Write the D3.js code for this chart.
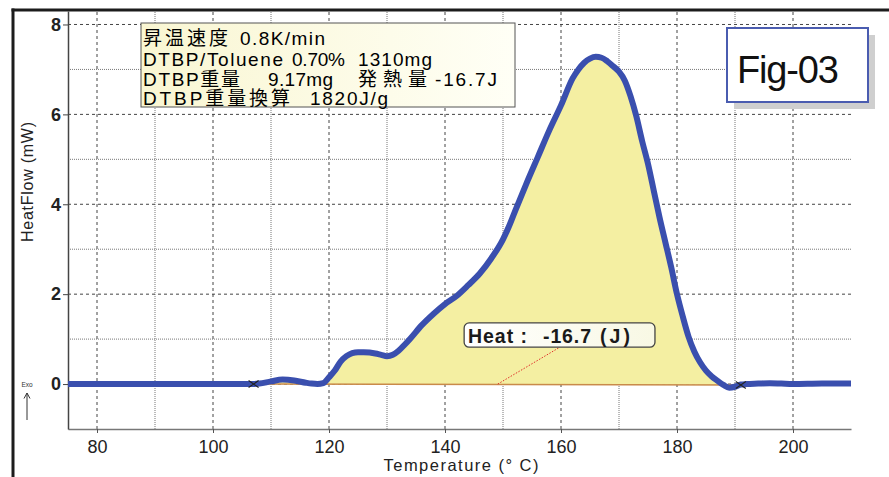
<!DOCTYPE html>
<html><head><meta charset="utf-8">
<script src="https://cdn.jsdelivr.net/npm/d3@7"></script>
<style>body{margin:0;background:#fff} svg{display:block}</style>
</head><body>
<svg id="c" width="889" height="477"></svg>
<script>
// ---- data ----
const temps = [75, 80, 90, 100, 105, 107, 108, 110, 112, 114, 116, 117, 118, 119, 120, 121, 122, 123, 124, 125, 126, 127, 128, 129, 130, 131, 132, 133, 134, 136, 138, 140, 142, 144, 146, 148, 150, 151, 152, 154, 156, 158, 160, 162, 163, 164, 165, 166, 167, 168, 169, 170, 171, 172, 173, 174, 175, 176, 177, 178, 179, 180, 181, 182, 183, 184, 185, 186, 187, 188, 189, 190, 191, 192, 194, 196, 198, 200, 205, 210];
const heatFlow = [0, 0, 0, 0, 0, 0, 0.01, 0.06, 0.1, 0.08, 0.03, 0.01, 0, 0.02, 0.15, 0.3, 0.5, 0.62, 0.69, 0.71, 0.71, 0.7, 0.68, 0.65, 0.62, 0.65, 0.74, 0.87, 1.01, 1.31, 1.56, 1.78, 1.96, 2.2, 2.46, 2.8, 3.22, 3.5, 3.82, 4.45, 5.05, 5.65, 6.2, 6.8, 7.0, 7.15, 7.24, 7.28, 7.26, 7.18, 7.07, 6.95, 6.75, 6.4, 5.95, 5.4, 4.9, 4.3, 3.7, 3.15, 2.6, 2.0, 1.5, 1.05, 0.72, 0.48, 0.3, 0.17, 0.07, -0.02, -0.08, -0.06, -0.01, 0.0, 0.01, 0.02, 0.01, 0.0, 0.01, 0.01];
const baselineTemps = [107, 191];
const baselineValues = [0, -0.02];
const xTickValues = [80, 100, 120, 140, 160, 180, 200];
const xMinorValues = [90, 110, 130, 150, 170, 190];
const yTickValues = [0, 2, 4, 6, 8];
const yMinorValues = [1, 3, 5, 7];
const xTitle = "Temperature (° C)";
const yTitle = "HeatFlow (mW)";
const figTitle = "Fig-03";
const infoLines = [
  [["昇温速度", 143, 85], ["0.8K/min", 240, 85]],
  [["DTBP/Toluene", 143, 140], ["0.70%", 292, 53], ["1310mg", 358, 74]],
  [["DTBP重量", 143, 97], ["9.17mg", 268, 65], ["発熱量", 358, 69], ["-16.7J", 435, 62]],
  [["DTBP重量換算", 143, 147], ["1820J/g", 310, 78]]
];
const heatText = ["Heat :", "-16.7", "(J)"];
const heatBox = {t0: 143.3, t1: 176.2, v0: 0.82, v1: 1.36};
const heatPointer = {t0: 149.1, v0: 0.0, t1: 159.8, v1: 0.82};

// ---- layout ----
const svg = d3.select("#c");
const L = 68, R = 851, T = 11, B = 429;
const x = d3.scaleLinear().domain([75, 210]).range([L, R]);
const y = d3.scaleLinear().domain([-1, 8.3]).range([B, T]);
const baseAt = d3.scaleLinear().domain(baselineTemps).range(baselineValues);

const defs = svg.append("defs");
defs.append("clipPath").attr("id", "clip").append("rect")
  .attr("x", L).attr("y", T).attr("width", R - L).attr("height", B - T);
const g1 = defs.append("linearGradient").attr("id", "infoGrad");
g1.append("stop").attr("offset", "0%").attr("stop-color", "#f9f6d2");
g1.append("stop").attr("offset", "100%").attr("stop-color", "#fffff6");
const g2 = defs.append("linearGradient").attr("id", "heatGrad");
g2.append("stop").attr("offset", "0%").attr("stop-color", "#ffffff");
g2.append("stop").attr("offset", "100%").attr("stop-color", "#f8f8e4");

// frame
svg.append("line").attr("x1", 13).attr("x2", 13).attr("y1", 8.5).attr("y2", 477)
  .attr("stroke", "#1c1c1c").attr("stroke-width", 3);
svg.append("line").attr("x1", 11.5).attr("x2", 889).attr("y1", 10).attr("y2", 10)
  .attr("stroke", "#1c1c1c").attr("stroke-width", 3);

// grid
const grid = svg.append("g");
grid.selectAll(".vmaj").data(xTickValues).join("line")
  .attr("x1", d => x(d)).attr("x2", d => x(d)).attr("y1", T + 1).attr("y2", B)
  .attr("stroke", "#444").attr("stroke-width", 1).attr("stroke-dasharray", "3,3");
grid.selectAll(".vmin").data(xMinorValues).join("line")
  .attr("x1", d => x(d)).attr("x2", d => x(d)).attr("y1", T + 1).attr("y2", B)
  .attr("stroke", "#777").attr("stroke-width", 1).attr("stroke-dasharray", "1,1");
grid.selectAll(".hmaj").data(yTickValues).join("line")
  .attr("x1", L).attr("x2", R).attr("y1", d => y(d)).attr("y2", d => y(d))
  .attr("stroke", "#444").attr("stroke-width", 1).attr("stroke-dasharray", "3,3");
grid.selectAll(".hmin").data(yMinorValues).join("line")
  .attr("x1", L).attr("x2", R).attr("y1", d => y(d)).attr("y2", d => y(d))
  .attr("stroke", "#777").attr("stroke-width", 1).attr("stroke-dasharray", "1,1");

// axes
const xAxis = svg.append("g").attr("transform", `translate(0,${B})`)
  .call(d3.axisBottom(x).tickValues(xTickValues).tickSize(4).tickSizeOuter(0).tickPadding(6));
xAxis.select(".domain").attr("stroke", "#777").attr("stroke-width", 1.5);
xAxis.selectAll(".tick line").attr("stroke", "#555");
xAxis.selectAll("text").attr("font-family", "Liberation Sans, Arial, sans-serif")
  .attr("font-size", 18).attr("fill", "#222").attr("dy", "0.8em");
const yAxis = svg.append("g").attr("transform", `translate(${L},0)`)
  .call(d3.axisLeft(y).tickValues(yTickValues).tickSize(5).tickSizeOuter(0).tickPadding(2));
yAxis.select(".domain").attr("stroke", "#444").attr("stroke-width", 1.5);
yAxis.selectAll(".tick line").attr("stroke", "#444");
yAxis.selectAll("text").attr("font-family", "Liberation Sans, Arial, sans-serif")
  .attr("font-size", 18).attr("font-weight", "bold").attr("fill", "#222");

// titles
svg.append("text").attr("x", 461).attr("y", 471).attr("text-anchor", "middle")
  .attr("font-family", "Liberation Sans, Arial, sans-serif").attr("font-size", 16.5)
  .attr("textLength", 155).attr("fill", "#222").text(xTitle);
svg.append("text").attr("transform", "translate(33,182) rotate(-90)").attr("text-anchor", "middle")
  .attr("font-family", "Liberation Sans, Arial, sans-serif").attr("font-size", 16)
  .attr("textLength", 120).attr("fill", "#222").text(yTitle);

// Exo arrow
svg.append("text").attr("x", 27).attr("y", 387).attr("text-anchor", "middle")
  .attr("font-family", "Liberation Sans, Arial, sans-serif").attr("font-size", 6.5)
  .attr("fill", "#333").text("Exo");
svg.append("path").attr("d", "M27,420 V393 M24,398.5 L27,393 L30,398.5")
  .attr("fill", "none").attr("stroke", "#333").attr("stroke-width", 1);

// data marks
const plot = svg.append("g").attr("clip-path", "url(#clip)");
const pts = temps.map((t, i) => ({t, v: heatFlow[i]}));
const fillPts = pts.filter(d => d.t >= baselineTemps[0] && d.t <= baselineTemps[1]);
plot.append("path").datum(fillPts)
  .attr("d", d3.area().curve(d3.curveMonotoneX)
    .x(d => x(d.t)).y0(d => y(baseAt(d.t))).y1(d => y(Math.max(d.v, baseAt(d.t)))))
  .attr("fill", "#f4efa2");
plot.append("line")
  .attr("x1", x(baselineTemps[0])).attr("y1", y(baselineValues[0]))
  .attr("x2", x(baselineTemps[1])).attr("y2", y(baselineValues[1]))
  .attr("stroke", "#c98a4a").attr("stroke-width", 1.5);
plot.append("line")
  .attr("x1", x(heatPointer.t0)).attr("y1", y(heatPointer.v0))
  .attr("x2", x(heatPointer.t1)).attr("y2", y(heatPointer.v1))
  .attr("stroke", "#e0302a").attr("stroke-width", 1).attr("stroke-dasharray", "1.5,1.5");
plot.append("path").datum(pts)
  .attr("d", d3.line().curve(d3.curveMonotoneX).x(d => x(d.t)).y(d => y(d.v)))
  .attr("fill", "none").attr("stroke", "#3a4fae").attr("stroke-width", 6)
  .attr("stroke-linejoin", "round");
// baseline end markers
baselineTemps.forEach((t, i) => {
  const cx = x(t), cy = y(baselineValues[i]);
  plot.append("path").attr("d", `M${cx-5},${cy-3.5}L${cx+5},${cy+3.5}M${cx-5},${cy+3.5}L${cx+5},${cy-3.5}`)
    .attr("stroke", "#222").attr("stroke-width", 1.1);
});

// heat label
svg.append("rect").attr("x", x(heatBox.t0)).attr("y", y(heatBox.v1))
  .attr("width", x(heatBox.t1) - x(heatBox.t0)).attr("height", y(heatBox.v0) - y(heatBox.v1))
  .attr("rx", 5).attr("fill", "url(#heatGrad)").attr("stroke", "#444").attr("stroke-width", 1.3);
const hx = [468, 543, 600], hl = [59, 48, 30];
heatText.forEach((s, i) => {
  svg.append("text").attr("x", hx[i]).attr("y", 343)
    .attr("font-family", "Liberation Sans, Arial, sans-serif").attr("font-size", 19.5)
    .attr("font-weight", "bold").attr("fill", "#1a1a1a").attr("textLength", hl[i]).text(s);
});

// info box
svg.append("rect").attr("x", 141).attr("y", 23).attr("width", 374).attr("height", 84)
  .attr("fill", "url(#infoGrad)").attr("stroke", "#555").attr("stroke-width", 1);
const baseY = [45, 66, 86, 105];
infoLines.forEach((line, li) => {
  line.forEach(([s, sx, len]) => {
    svg.append("text").attr("x", sx).attr("y", baseY[li])
      .attr("font-family", "Liberation Sans, Arial, 'Noto Sans CJK JP', sans-serif")
      .attr("font-size", 19).attr("fill", "#000").attr("textLength", len).text(s);
  });
});

// Fig-03 box
svg.append("rect").attr("x", 734).attr("y", 35).attr("width", 141).attr("height", 74).attr("fill", "#cfcfcf");
svg.append("rect").attr("x", 727).attr("y", 28).attr("width", 141).attr("height", 74)
  .attr("fill", "#fff").attr("stroke", "#4a5cb0").attr("stroke-width", 2);
svg.append("text").attr("x", 737).attr("y", 83)
  .attr("font-family", "Liberation Sans, Arial, sans-serif").attr("font-size", 38)
  .attr("textLength", 102).attr("fill", "#111").text(figTitle);
</script>
</body></html>
